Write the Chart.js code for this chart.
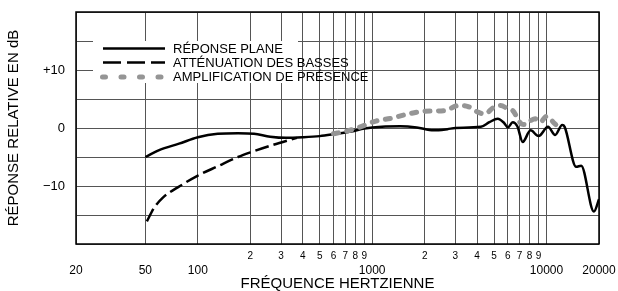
<!DOCTYPE html>
<html>
<head>
<meta charset="utf-8">
<script src="https://cdn.jsdelivr.net/npm/chart.js@4.4.1/dist/chart.umd.min.js"></script>
<style>
    html, body { margin: 0; padding: 0; background: #fff; }
    #contenedor { width: 618px; height: 291px; }
</style>
</head>
<body>
<div id="contenedor"><canvas id="myChart"></canvas></div>
<script>
// Datos (frecuencia en Hz, respuesta en dB)
const frec_plana = [50, 60, 78, 100, 130, 170, 210, 260, 320, 400, 500, 620, 760, 900, 1000, 1450, 1800, 2250, 2700, 3000, 4200, 4700, 5250, 5700, 6000, 6400, 6800, 7300, 8100, 9000, 10200, 11200, 12300, 12700, 14800, 15800, 18700, 20000]
const db_plana = [-5.0, -3.8, -2.7, -1.6, -1.0, -0.9, -1.0, -1.5, -1.7, -1.6, -1.4, -1.0, -0.6, -0.1, 0.1, 0.3, 0.1, -0.4, -0.2, 0.0, 0.2, 1.0, 1.6, 0.9, 0.1, 1.0, 0.3, -2.4, -0.4, -1.4, 0.2, -1.2, 0.5, 0.2, -6.7, -6.5, -14.4, -12.3]

const frec_basses = [51, 56, 63, 79, 100, 130, 170, 200, 270, 370]
const db_basses = [-16.1, -13.8, -12.0, -10.0, -8.2, -6.6, -5.0, -4.2, -2.9, -1.7]

const frec_presence = [600, 700, 840, 1050, 1300, 1550, 2000, 2600, 3150, 3550, 4000, 4400, 5000, 5450, 6000, 6400, 7200, 7600, 8150, 8600, 9200, 10000, 11100, 11600]
const db_presence = [-1.0, -0.6, 0.1, 1.2, 1.7, 2.3, 2.9, 3.0, 3.9, 3.7, 2.8, 2.4, 3.6, 3.9, 3.3, 3.0, 0.7, 0.6, 1.3, 1.6, 1.0, 2.0, 0.8, 0.3]

const series = ['RÉPONSE PLANE', 'ATTÉNUATION DES BASSES', 'AMPLIFICATION DE PRÉSENCE']

const ticks_x = [20, 50, 100, 200, 300, 400, 500, 600, 700, 800, 900, 1000, 2000, 3000, 4000, 5000, 6000, 7000, 8000, 9000, 10000, 20000]
const etiquetas_menores = ['', '', '', '2', '3', '4', '5', '6', '7', '8', '9', '', '2', '3', '4', '5', '6', '7', '8', '9', '', '']
const etiquetas_mayores = ['20', '50', '100', '', '', '', '', '', '', '', '', '1000', '', '', '', '', '', '', '', '', '10000', '20000']

const ticks_y = [-20, -15, -10, -5, 0, 5, 10, 15, 20]
const etiquetas_y = ['', '', '\u221210', '', '0', '', '+10', '', '']

const estilos_leyenda = [
    { color: '#000', ancho: 2.5, dash: [], cap: 'butt' },
    { color: '#000', ancho: 2.5, dash: [18, 6], cap: 'butt' },
    { color: '#959595', ancho: 5, dash: [3, 15.5], cap: 'round' }
]

var myChart

Chart.defaults.font.family = "'Liberation Sans', Arial, sans-serif"
Chart.defaults.color = '#000'

generar_grafico()

function puntos(frecs, valores) {
    return frecs.map((f, i) => ({ x: f, y: valores[i] }))
}

function generar_grafico() {
    const marco = {
        id: 'marco',
        afterDraw(chart) {
            const { ctx, chartArea } = chart
            ctx.save()
            ctx.strokeStyle = '#000'
            ctx.lineWidth = 1.5
            ctx.strokeRect(chartArea.left, chartArea.top, chartArea.right - chartArea.left, chartArea.bottom - chartArea.top)
            ctx.restore()
        }
    }

    const leyenda = {
        id: 'leyenda',
        afterDraw(chart) {
            const ctx = chart.ctx
            ctx.save()
            ctx.fillStyle = '#fff'
            ctx.fillRect(93, 41, 205, 42)
            const filas = [48.5, 62.5, 77]
            ctx.font = "13px 'Liberation Sans', Arial, sans-serif"
            ctx.textBaseline = 'middle'
            series.forEach((nombre, i) => {
                const e = estilos_leyenda[i]
                ctx.beginPath()
                ctx.strokeStyle = e.color
                ctx.lineWidth = e.ancho
                ctx.lineCap = e.cap
                ctx.setLineDash(e.dash)
                ctx.moveTo(i === 2 ? 102.5 : 103, filas[i])
                ctx.lineTo(165, filas[i])
                ctx.stroke()
                ctx.setLineDash([])
                ctx.fillStyle = '#000'
                ctx.fillText(nombre, 173, filas[i] + 0.5)
            })
            ctx.restore()
        }
    }

    const data = {
        datasets: [
            {
                label: series[0],
                data: puntos(frec_plana, db_plana),
                borderColor: '#000',
                borderWidth: 2.5,
                order: 1
            },
            {
                label: series[1],
                data: puntos(frec_basses, db_basses),
                borderColor: '#000',
                borderWidth: 2.5,
                borderDash: [14, 5],
                order: 2
            },
            {
                label: series[2],
                data: puntos(frec_presence, db_presence),
                borderColor: '#959595',
                borderWidth: 5,
                borderDash: [5, 8.5],
                borderCapStyle: 'round',
                order: 0
            }
        ]
    }

    const config = {
        type: 'line',
        data: data,
        options: {
            responsive: true,
            maintainAspectRatio: false,
            animation: false,
            devicePixelRatio: 1,
            layout: { padding: { top: 12, right: 19, bottom: 0, left: 0 } },
            elements: {
                point: { radius: 0 },
                line: { cubicInterpolationMode: 'monotone', fill: false }
            },
            plugins: {
                legend: { display: false },
                tooltip: { enabled: false }
            },
            scales: {
                x: {
                    type: 'logarithmic',
                    position: 'bottom',
                    min: 20,
                    max: 20000,
                    afterBuildTicks: (scale) => { scale.ticks = ticks_x.map(v => ({ value: v })) },
                    afterFit: (scale) => { scale.height = 18 },
                    grid: { color: '#555', lineWidth: 1, drawTicks: false },
                    border: { display: false },
                    ticks: {
                        autoSkip: false,
                        maxRotation: 0,
                        padding: 6,
                        font: { size: 10 },
                        callback: (value, index) => etiquetas_menores[index]
                    }
                },
                x2: {
                    type: 'logarithmic',
                    position: 'bottom',
                    min: 20,
                    max: 20000,
                    afterBuildTicks: (scale) => { scale.ticks = ticks_x.map(v => ({ value: v })) },
                    afterFit: (scale) => { scale.height = 29 },
                    grid: { display: false, drawTicks: false },
                    border: { display: false },
                    ticks: {
                        autoSkip: false,
                        maxRotation: 0,
                        padding: 1,
                        font: { size: 12 },
                        callback: (value, index) => etiquetas_mayores[index]
                    },
                    title: {
                        display: true,
                        text: 'FRÉQUENCE HERTZIENNE',
                        font: { size: 15, lineHeight: 1 },
                        padding: { top: 0, bottom: 0 }
                    }
                },
                y: {
                    min: -20,
                    max: 20,
                    afterBuildTicks: (scale) => { scale.ticks = ticks_y.map(v => ({ value: v })) },
                    afterFit: (scale) => {
                        scale.width = 76
                        scale.paddingTop = 0
                        scale.paddingBottom = 0
                    },
                    grid: { color: '#555', lineWidth: 1, drawTicks: false },
                    border: { display: false },
                    ticks: {
                        padding: 11,
                        font: { size: 13 },
                        callback: (value, index) => etiquetas_y[index]
                    },
                    title: {
                        display: true,
                        text: 'RÉPONSE RELATIVE EN dB',
                        font: { size: 15, lineHeight: 1 },
                        padding: { top: 6.5, bottom: 0 }
                    }
                }
            }
        },
        plugins: [marco, leyenda]
    }

    myChart = new Chart(document.getElementById('myChart'), config)
}
</script>
</body>
</html>
